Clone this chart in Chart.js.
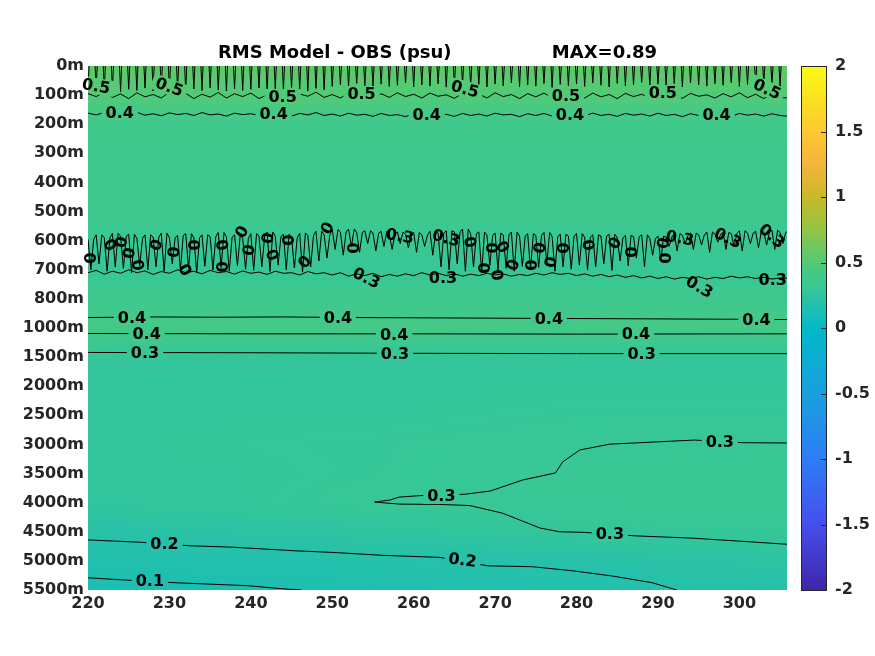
<!DOCTYPE html>
<html>
<head>
<meta charset="utf-8">
<script src="https://cdn.jsdelivr.net/npm/chart.js@4.4.1/dist/chart.umd.min.js"></script>
<style>
html,body{margin:0;padding:0;background:#fff;}
canvas{display:block;}
</style>
</head>
<body>
<canvas id="rms" width="875" height="656"></canvas>
<script>
// depth levels are drawn evenly spaced, one per label
const depthLabels = ['0m','100m','200m','300m','400m','500m','600m','700m','800m','1000m',
  '1500m','2000m','2500m','3000m','3500m','4000m','4500m','5000m','5500m'];
const lonTicks = [220,230,240,250,260,270,280,290,300];
const cbTicks = [-2,-1.5,-1,-0.5,0,0.5,1,1.5,2];

// RMS field (psu) per depth level, at these longitudes
const fieldLon = [220,255,280,306];
const fieldRows = [
  [0.56,0.56,0.56,0.56],
  [0.49,0.49,0.49,0.49],
  [0.38,0.38,0.38,0.38],
  [0.37,0.37,0.37,0.37],
  [0.37,0.37,0.37,0.37],
  [0.36,0.36,0.36,0.36],
  [0.32,0.32,0.32,0.32],
  [0.30,0.30,0.30,0.30],
  [0.36,0.36,0.36,0.36],
  [0.42,0.42,0.42,0.42],
  [0.28,0.28,0.28,0.28],
  [0.28,0.28,0.28,0.28],
  [0.28,0.28,0.29,0.29],
  [0.28,0.29,0.30,0.305],
  [0.27,0.29,0.31,0.32],
  [0.26,0.30,0.31,0.32],
  [0.21,0.25,0.28,0.29],
  [0.16,0.19,0.21,0.24],
  [0.12,0.14,0.17,0.20]
];

// jagged contours, one depth value per degree of longitude
const lonGrid = [220,221,222,223,224,225,226,227,228,229,230,231,232,233,234,235,236,237,238,239,
  240,241,242,243,244,245,246,247,248,249,250,251,252,253,254,255,256,257,258,259,
  260,261,262,263,264,265,266,267,268,269,270,271,272,273,274,275,276,277,278,279,
  280,281,282,283,284,285,286,287,288,289,290,291,292,293,294,295,296,297,298,299,
  300,301,302,303,304,305,306];
const combTip = [0.82,0.75,0.85,0.78,0.88,0.8,0.84,0.76,0.86,0.8,0.83,0.77,0.87,0.79,0.84,0.75,0.82,0.86,0.78,0.84,0.8,0.76,0.85,0.79,0.83,0.74,0.8,0.86,0.77,0.82,
  0.7,0.64,0.72,0.6,0.68,0.74,0.62,0.7,0.66,0.58,0.72,0.65,0.69,0.61,0.73,0.66,0.6,0.7,0.64,0.72,0.62,0.68,0.58,0.71,0.65,0.69,0.6,0.74,0.63,0.67,
  0.62,0.7,0.58,0.66,0.72,0.6,0.68,0.64,0.56,0.7,0.62,0.67,0.6,0.72,0.58,0.65,0.69,0.61,0.66,0.57,0.7,0.63,0.68,0.6,0.65,0.7,0.62];
const c05 = [0.95,1.05,0.9,1.08,0.96,1.12,0.92,1.06,0.98,1.1,0.9,1.04,0.94,1.12,0.97,1.07,0.91,1.1,0.95,1.05,0.93,1.12,0.99,1.06,0.92,1.1,0.96,1.04,0.9,1.08,
  0.98,1.1,0.94,1.06,1.0,1.12,0.95,1.08,0.92,1.05,0.97,1.1,0.93,1.04,0.99,1.11,0.94,1.07,0.96,1.1,0.92,1.05,0.98,1.12,0.95,1.06,0.93,1.09,0.97,1.04,
  0.95,1.1,0.93,1.06,0.98,1.12,0.94,1.05,0.97,1.1,0.92,1.07,0.96,1.11,0.94,1.04,0.99,1.1,0.95,1.06,0.92,1.09,0.97,1.12,0.95,1.08,1.1];
const c04top = [1.62,1.68,1.6,1.7,1.63,1.66,1.59,1.69,1.64,1.71,1.61,1.67,1.63,1.7,1.6,1.68,1.65,1.72,1.62,1.67,1.64,1.7,1.61,1.69,1.66,1.72,1.63,1.68,1.6,1.7,
  1.65,1.72,1.62,1.69,1.66,1.73,1.63,1.7,1.67,1.74,1.64,1.69,1.62,1.71,1.66,1.73,1.63,1.7,1.65,1.72,1.62,1.68,1.66,1.74,1.64,1.7,1.63,1.72,1.66,1.69,
  1.64,1.71,1.62,1.7,1.66,1.73,1.63,1.69,1.65,1.72,1.62,1.7,1.66,1.74,1.64,1.7,1.62,1.71,1.66,1.73,1.63,1.69,1.65,1.72,1.64,1.7,1.73];
const midUpper = [5.95,5.8,5.9,5.75,5.85,5.78,5.92,5.8,5.88,5.74,5.9,5.82,5.76,5.9,5.8,5.86,5.72,5.88,5.8,5.92,5.76,5.84,5.7,5.86,5.78,5.9,5.74,5.82,5.68,5.8,
  5.62,5.7,5.6,5.72,5.66,5.74,5.68,5.76,5.7,5.78,5.72,5.8,5.68,5.74,5.66,5.7,5.6,5.76,5.7,5.82,5.74,5.8,5.7,5.84,5.76,5.82,5.72,5.86,5.78,5.84,
  5.76,5.88,5.8,5.84,5.78,5.9,5.82,5.86,5.8,5.92,5.84,5.88,5.76,5.82,5.74,5.8,5.7,5.78,5.72,5.76,5.66,5.74,5.68,5.7,5.64,5.72,5.66];
const midSpike = [7.0,6.8,7.05,6.9,6.95,7.1,6.85,7.0,6.9,7.05,6.8,7.0,6.95,7.1,6.88,7.0,6.92,7.05,6.86,6.98,7.02,6.9,7.06,6.84,7.0,6.94,7.08,6.9,6.7,6.6,
  6.3,6.5,6.2,6.4,6.1,6.35,6.2,6.3,6.1,6.25,6.4,6.2,6.5,
  6.9,7.0,6.8,7.05,6.9,7.1,6.85,7.0,6.95,7.05,6.88,7.0,6.92,6.8,7.05,6.9,6.98,6.84,7.0,6.9,6.8,7.02,6.7,6.86,6.6,6.9,6.5,6.7,
  6.2,6.35,6.1,6.3,6.15,6.4,6.05,6.3,6.2,6.35,6.1,6.25,6.15,6.3,6.1,6.2];
const midLower = [7.1,7.02,7.15,7.05,7.12,7.0,7.1,7.04,7.16,7.06,7.12,7.0,7.1,7.05,7.14,7.02,7.1,7.06,7.15,7.04,7.12,7.08,7.16,7.05,7.12,7.1,7.18,7.06,7.14,7.1,
  7.18,7.1,7.22,7.14,7.2,7.12,7.24,7.16,7.22,7.14,7.2,7.1,7.18,7.12,7.2,7.14,7.22,7.15,7.2,7.12,7.18,7.14,7.22,7.16,7.2,7.12,7.18,7.1,7.16,7.12,
  7.2,7.14,7.22,7.16,7.24,7.18,7.26,7.2,7.28,7.22,7.3,7.24,7.32,7.26,7.3,7.24,7.32,7.26,7.3,7.22,7.28,7.24,7.3,7.26,7.32,7.28,7.3];

// smoother contours as [lon, depth level]
const c04b = [[220,8.64],[228,8.62],[236,8.63],[244,8.62],[252,8.64],[260,8.65],[268,8.66],[276,8.67],[284,8.68],[292,8.69],[300,8.7],[306,8.71]];
const c04c = [[220,9.19],[240,9.2],[260,9.2],[280,9.21],[306,9.2]];
const c03b = [[220,9.84],[240,9.85],[260,9.87],[280,9.88],[306,9.88]];
const c03deepUp = [[255.2,14.98],[257.1,14.91],[258.2,14.81],[260.7,14.76],[266.3,14.71],[269.4,14.6],[273.4,14.22],[277.4,13.98],[278.3,13.6],[280.4,13.19],[284.1,12.99],[287.8,12.94],[294.5,12.85],[300.4,12.94],[305.9,12.95]];
const c03deepLo = [[255.2,14.98],[258.3,15.05],[263.2,15.06],[266.9,15.1],[270.9,15.36],[275.5,15.87],[277.9,16.0],[281.0,16.02],[287.2,16.14],[294.3,16.22],[302.1,16.36],[305.9,16.43]];
const c02 = [[220,16.28],[226.4,16.36],[232.5,16.48],[237.8,16.53],[245.2,16.65],[250.1,16.71],[256.2,16.81],[263.2,16.88],[269.1,17.17],[274.6,17.2],[279.5,17.34],[284.4,17.52],[289.3,17.75],[292.3,18]];
const c01 = [[220,17.58],[224.7,17.66],[230.7,17.75],[239.5,17.85],[244,17.96],[246.2,18]];

// contour labels: text, lon, depth level, rotation (deg), clear gap
const contourLabels = [
  ['0.5',221.0,0.69,10,1],['0.5',230.0,0.72,20,1],['0.5',243.9,1.06,0,1],['0.5',253.6,0.96,0,1],
  ['0.5',266.3,0.79,15,1],['0.5',278.7,1.03,0,1],['0.5',290.6,0.93,0,1],['0.5',303.4,0.79,25,1],
  ['0.4',223.9,1.61,0,1],['0.4',242.8,1.65,0,1],['0.4',261.6,1.68,0,1],['0.4',279.2,1.68,0,1],['0.4',297.2,1.68,0,1],
  ['0.4',225.4,8.66,0,1],['0.4',250.7,8.66,0,1],['0.4',276.6,8.69,0,1],['0.4',302.1,8.73,0,1],
  ['0.4',227.2,9.2,0,1],['0.4',257.6,9.24,0,1],['0.4',287.3,9.2,0,1],
  ['0.3',227.0,9.85,0,1],['0.3',257.7,9.89,0,1],['0.3',288.0,9.89,0,1],
  ['0.3',263.4,14.77,0,1],['0.3',297.6,12.92,0,1],['0.3',284.1,16.08,0,1],
  ['0.2',229.4,16.42,0,1],['0.2',266.0,16.97,8,1],['0.1',227.6,17.69,0,1],
  ['0.3',254.2,7.28,25,0],['0.3',263.6,7.28,0,0],['0.3',295.1,7.59,30,0],['0.3',304.1,7.35,0,0],
  ['0.3',258.3,5.84,10,0],['0.3',264.0,5.91,15,0],['0.3',292.7,5.91,10,0],['0.3',298.6,5.91,25,0],['0.3',304.0,5.84,40,0]
];
// tangled labels in the 600-700m band
const tangleLabels = [
  [220.2,6.60,90],[222.7,6.15,60],[224.1,6.05,-80],[224.9,6.42,100],[226.1,6.84,80],[228.4,6.15,-70],
  [230.4,6.39,95],[231.9,7.01,60],[233.1,6.15,-90],[236.4,6.15,80],[238.9,5.70,-60],[236.4,6.90,90],
  [239.6,6.32,100],[242.1,5.91,-80],[242.6,6.49,70],[244.5,5.98,90],[246.6,6.73,-50],[249.4,5.57,-60],
  [252.5,6.25,90],[266.9,6.05,80],[269.7,6.25,-90],[270.9,6.22,60],[268.5,6.94,90],[270.2,7.18,80],
  [272.2,6.84,-70],[274.3,6.84,90],[276.7,6.73,100],[275.5,6.25,-80],[278.2,6.25,90],[281.4,6.15,80],
  [284.7,6.08,-60],[286.6,6.39,90],[290.5,6.08,100],[290.8,6.60,90]
];

const cmapStops = [[-2,62,38,168],[-1.5,70,78,238],[-1,45,125,245],[-0.5,25,160,222],[0,0,185,200],
  [0.1,25,190,182],[0.2,38,193,170],[0.3,55,199,150],[0.4,66,201,137],[0.5,82,202,117],
  [0.75,145,197,68],[1,200,185,40],[1.25,245,180,60],[1.5,253,200,48],[2,249,250,20]];

function rgbOf(v) {
  if (v <= cmapStops[0][0]) return cmapStops[0].slice(1);
  for (let i = 1; i < cmapStops.length; i++) {
    const a = cmapStops[i-1], b = cmapStops[i];
    if (v <= b[0]) {
      const t = (v - a[0]) / (b[0] - a[0]);
      return [a[1]+(b[1]-a[1])*t, a[2]+(b[2]-a[2])*t, a[3]+(b[3]-a[3])*t];
    }
  }
  return cmapStops[cmapStops.length-1].slice(1);
}
function colorOf(v) {
  const c = rgbOf(v);
  return 'rgb(' + Math.round(c[0]) + ',' + Math.round(c[1]) + ',' + Math.round(c[2]) + ')';
}
function fieldAt(lon, d) {
  let i = Math.max(0, Math.min(fieldRows.length - 2, Math.floor(d)));
  let ti = Math.max(0, Math.min(1, d - i));
  let j = 0;
  while (j < fieldLon.length - 2 && lon > fieldLon[j+1]) j++;
  let tj = Math.max(0, Math.min(1, (lon - fieldLon[j]) / (fieldLon[j+1] - fieldLon[j])));
  const r0 = fieldRows[i][j] + (fieldRows[i][j+1] - fieldRows[i][j]) * tj;
  const r1 = fieldRows[i+1][j] + (fieldRows[i+1][j+1] - fieldRows[i+1][j]) * tj;
  return r0 + (r1 - r0) * ti;
}

// build line datasets
const combPts = [];
lonGrid.forEach((lon, i) => {
  combPts.push({x: lon - 0.13, y: 0}, {x: lon, y: combTip[i]}, {x: lon + 0.13, y: 0}, {x: lon + 0.13, y: null});
});
const midPts = [];
lonGrid.forEach((lon, i) => {
  midPts.push({x: lon, y: midUpper[i]}, {x: lon + 0.35, y: midSpike[i]}, {x: lon + 0.7, y: midUpper[i]});
});
const onGrid = arr => lonGrid.map((lon, i) => ({x: lon, y: arr[i]}));
const pairs = arr => arr.map(p => ({x: p[0], y: p[1]}));

const lines = [combPts, onGrid(c05), onGrid(c04top), midPts, onGrid(midLower),
  pairs(c04b), pairs(c04c), pairs(c03b), pairs(c03deepUp), pairs(c03deepLo), pairs(c02), pairs(c01)];

const tickFont = {family: 'DejaVu Sans', size: 16, weight: 'bold'};

const fieldPlugin = {
  id: 'field',
  beforeDatasetsDraw(chart) {
    const {ctx, chartArea: a, scales: {x, y}} = chart;
    const w = Math.round(a.right - a.left), h = Math.round(a.bottom - a.top);
    const img = ctx.createImageData(w, h);
    for (let py = 0; py < h; py++) {
      const d = y.getValueForPixel(a.top + py + 0.5);
      for (let px = 0; px < w; px++) {
        const c = rgbOf(fieldAt(x.getValueForPixel(a.left + px + 0.5), d));
        const k = (py * w + px) * 4;
        img.data[k] = c[0]; img.data[k+1] = c[1]; img.data[k+2] = c[2]; img.data[k+3] = 255;
      }
    }
    ctx.putImageData(img, Math.round(a.left), Math.round(a.top));
  },
  afterDatasetsDraw(chart) {
    const {ctx, chartArea: a, scales: {x, y, cb}} = chart;
    ctx.save();
    ctx.font = 'bold 16px "DejaVu Sans"';
    ctx.textAlign = 'center';
    ctx.textBaseline = 'middle';
    for (const [txt, lon, d, rot, clear] of contourLabels) {
      if (clear) {
        ctx.save();
        ctx.beginPath();
        ctx.rect(a.left, a.top, a.right - a.left, a.bottom - a.top);
        ctx.clip();
        ctx.translate(x.getPixelForValue(lon), y.getPixelForValue(d));
        ctx.rotate(rot * Math.PI / 180);
        const w = ctx.measureText(txt).width + 8;
        ctx.fillStyle = colorOf(fieldAt(lon, d));
        ctx.fillRect(-w / 2, -8, w, 16);
        ctx.restore();
      }
      ctx.save();
      ctx.translate(x.getPixelForValue(lon), y.getPixelForValue(d));
      ctx.rotate(rot * Math.PI / 180);
      ctx.fillStyle = '#000';
      ctx.fillText(txt, 0, 1);
      ctx.restore();
    }
    for (const [lon, d, rot] of tangleLabels) {
      ctx.save();
      ctx.translate(x.getPixelForValue(lon), y.getPixelForValue(d));
      ctx.rotate(rot * Math.PI / 180);
      ctx.fillStyle = '#000';
      ctx.fillText('0', 0, 1);
      ctx.restore();
    }
    // colorbar
    const top = cb.getPixelForValue(2), bot = cb.getPixelForValue(-2);
    const bx = cb.left + 14, bw = 25;
    for (let py = Math.floor(top); py < bot; py++) {
      ctx.fillStyle = colorOf(cb.getValueForPixel(py + 0.5));
      ctx.fillRect(bx, py, bw, 1);
    }
    ctx.strokeStyle = '#262626';
    ctx.lineWidth = 1;
    ctx.strokeRect(bx + 0.5, top + 0.5, bw, bot - top);
    ctx.beginPath();
    cbTicks.forEach(v => {
      const py = Math.round(cb.getPixelForValue(v)) + 0.5;
      ctx.moveTo(bx + bw - 5, py); ctx.lineTo(bx + bw, py);
    });
    ctx.stroke();
    ctx.restore();
  }
};

new Chart(document.getElementById('rms'), {
  type: 'scatter',
  data: {
    datasets: lines.map(pts => ({
      data: pts, showLine: true, spanGaps: false, borderColor: '#000', borderWidth: 1,
      pointRadius: 0, tension: 0
    }))
  },
  options: {
    responsive: false,
    animation: false,
    devicePixelRatio: 1,
    layout: {padding: 0},
    plugins: {
      legend: {display: false},
      tooltip: {enabled: false},
      title: {
        display: true,
        text: 'RMS Model - OBS (psu)                MAX=0.89',
        color: '#000',
        font: {family: 'DejaVu Sans', size: 18, weight: 'bold'},
        padding: {top: 43, bottom: 1.4}
      }
    },
    scales: {
      x: {
        type: 'linear', min: 220, max: 305.85,
        afterBuildTicks: s => { s.ticks = lonTicks.map(v => ({value: v})); },
        afterFit: s => { s.height = 66; },
        grid: {display: false, drawTicks: false},
        border: {display: false},
        ticks: {font: tickFont, color: '#262626', padding: 4, maxRotation: 0}
      },
      y: {
        type: 'linear', reverse: true, min: 0, max: depthLabels.length - 1,
        afterBuildTicks: s => { s.ticks = depthLabels.map((_, i) => ({value: i})); },
        afterFit: s => { s.width = 88; },
        grid: {display: false, drawTicks: false},
        border: {display: false},
        ticks: {font: tickFont, color: '#262626', padding: 4, autoSkip: false,
          callback: v => depthLabels[v]}
      },
      cb: {
        type: 'linear', position: 'right', min: -2, max: 2,
        afterBuildTicks: s => { s.ticks = cbTicks.map(v => ({value: v})); },
        afterFit: s => { s.width = 88; },
        grid: {display: false, drawTicks: false},
        border: {display: false},
        ticks: {font: tickFont, color: '#262626', padding: 48, autoSkip: false,
          callback: v => String(v)}
      }
    }
  },
  plugins: [fieldPlugin]
});
</script>
</body>
</html>
